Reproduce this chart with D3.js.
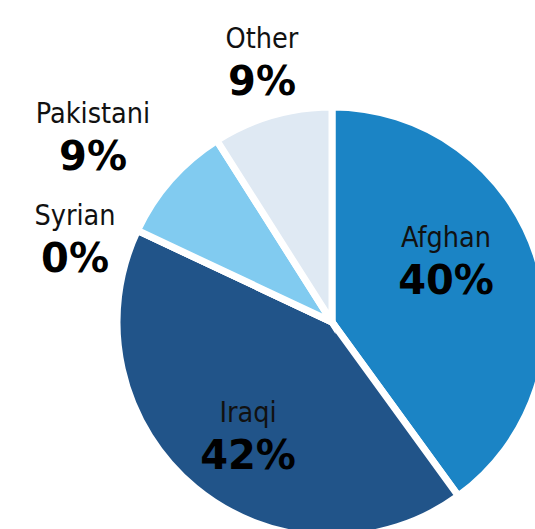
<!DOCTYPE html>
<html>
<head>
<meta charset="utf-8">
<script src="https://cdn.jsdelivr.net/npm/d3@7"></script>
<style>
  html, body { margin: 0; padding: 0; background: #ffffff; overflow: hidden; }
  .name { font-family: "DejaVu Sans Condensed", "DejaVu Sans", sans-serif; font-stretch: condensed; font-size: 28.5px; fill: #111; }
  .pct  { font-family: "DejaVu Sans", sans-serif; font-weight: bold; font-size: 40px; fill: #000; }
</style>
</head>
<body>
<svg id="chart" width="535" height="529"></svg>
<script>
// Share of applicants by nationality (percent)
const categories = ["Afghan", "Iraqi", "Syrian", "Pakistani", "Other"];
const shares = [40, 42, 0, 9, 9];
const colors = ["#1b84c5", "#215489", "#86ccf1", "#81cbf0", "#dfe9f3"];

// Label anchor points (centre x, name baseline y) for each category
const labelX = [446, 248, 75, 93, 262];
const labelY = [247, 422, 225, 123, 48];

const svg = d3.select("#chart");
const cx = 332, cy = 322, radius = 215;

const pie = d3.pie().sort(null).value(d => d)(shares);
const arc = d3.arc().innerRadius(0).outerRadius(radius);

const g = svg.append("g").attr("transform", `translate(${cx},${cy})`);

g.selectAll("path")
  .data(pie)
  .join("path")
  .attr("d", arc)
  .attr("fill", (d, i) => colors[i])
  .attr("stroke", "#ffffff")
  .attr("stroke-width", 7)
  .attr("stroke-linejoin", "miter");

const labels = svg.selectAll("g.label")
  .data(categories)
  .join("g")
  .attr("class", "label")
  .attr("transform", (d, i) => `translate(${labelX[i]},${labelY[i]})`);

labels.append("text")
  .attr("class", "name")
  .attr("text-anchor", "middle")
  .text(d => d);

labels.append("text")
  .attr("class", "pct")
  .attr("text-anchor", "middle")
  .attr("y", 47)
  .text((d, i) => d3.format(".0f")(shares[i]) + "%");
</script>
</body>
</html>
